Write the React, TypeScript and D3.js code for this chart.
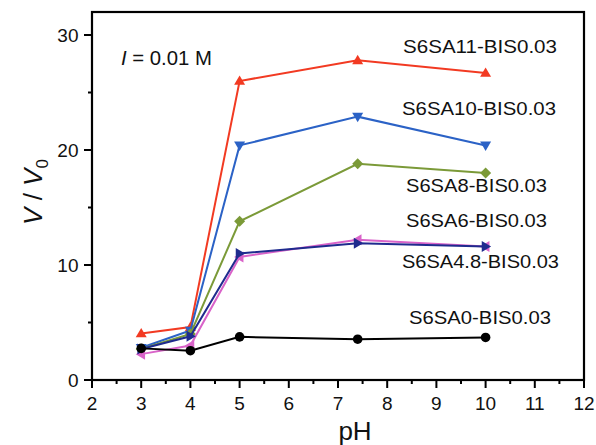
import React from "react";
import * as d3 from "d3";

const pH = [3, 4, 5, 7.4, 10];
const s11 = [4.05, 4.6, 26.0, 27.8, 26.7];
const s10 = [2.8, 4.3, 20.4, 22.9, 20.4];
const s8 = [2.7, 4.0, 13.8, 18.8, 18.0];
const s6 = [2.25, 3.0, 10.7, 12.2, 11.6];
const s48 = [2.7, 3.8, 11.0, 11.9, 11.6];
const s0 = [2.75, 2.55, 3.75, 3.55, 3.7];

const xTicks = [2, 3, 4, 5, 6, 7, 8, 9, 10, 11, 12];
const yTicks = [0, 10, 20, 30];

const series = [
  { name: "S6SA11-BIS0.03", values: s11, color: "#f23a22", marker: "up", lx: 403, ly: 53, lw: 154 },
  { name: "S6SA10-BIS0.03", values: s10, color: "#2b62c6", marker: "down", lx: 402, ly: 115, lw: 154 },
  { name: "S6SA8-BIS0.03", values: s8, color: "#7b9a38", marker: "diamond", lx: 406, ly: 192, lw: 141 },
  { name: "S6SA6-BIS0.03", values: s6, color: "#d963c9", marker: "left", lx: 406, ly: 227, lw: 141 },
  { name: "S6SA4.8-BIS0.03", values: s48, color: "#1f2b8e", marker: "right", lx: 402, ly: 268, lw: 157 },
  { name: "S6SA0-BIS0.03", values: s0, color: "#000000", marker: "circle", lx: 409, ly: 324, lw: 142 },
];

const L = 92, R = 584, T = 12, B = 380;

function Marker({ type, x, y, color }: { type: string; x: number; y: number; color: string }) {
  const s = 5.5;
  if (type === "circle") return <circle cx={x} cy={y} r={4.8} fill={color} />;
  let pts = "";
  if (type === "up") pts = `${x},${y - s} ${x + s},${y + s * 0.7} ${x - s},${y + s * 0.7}`;
  if (type === "down") pts = `${x},${y + s} ${x + s},${y - s * 0.7} ${x - s},${y - s * 0.7}`;
  if (type === "left") pts = `${x - s},${y} ${x + s * 0.7},${y - s} ${x + s * 0.7},${y + s}`;
  if (type === "right") pts = `${x + s},${y} ${x - s * 0.7},${y - s} ${x - s * 0.7},${y + s}`;
  if (type === "diamond") pts = `${x},${y - s} ${x + s},${y} ${x},${y + s} ${x - s},${y}`;
  return <polygon points={pts} fill={color} />;
}

export default function App() {
  const x = d3.scaleLinear().domain([2, 12]).range([L, R]);
  const y = d3.scaleLinear().domain([0, 32]).range([B, T]);
  const line = d3.line<number>().x((_, i) => x(pH[i])).y((d) => y(d));
  const font = "Arial, 'Liberation Sans', sans-serif";
  const minorX = d3.range(2.5, 12, 1);
  const minorY = [5, 15, 25];
  return (
    <svg width={596} height={445} style={{ position: "absolute", left: 0, top: 0 }} fontFamily={font}>
      <rect width={596} height={445} fill="#fff" />
      {series.map((s) => (
        <g key={s.name}>
          <path d={line(s.values) || ""} fill="none" stroke={s.color} strokeWidth={2} />
          {s.values.map((v, i) => (
            <Marker key={i} type={s.marker} x={x(pH[i])} y={y(v)} color={s.color} />
          ))}
          <text x={s.lx} y={s.ly} fontSize={18.5} textLength={s.lw} lengthAdjust="spacingAndGlyphs" fill="#111">
            {s.name}
          </text>
        </g>
      ))}
      <rect x={L} y={T} width={R - L} height={B - T} fill="none" stroke="#000" strokeWidth={2.2} />
      {xTicks.map((t) => (
        <g key={t}>
          <line x1={x(t)} x2={x(t)} y1={B} y2={B + 8} stroke="#000" strokeWidth={2} />
          <text x={x(t)} y={409.5} fontSize={19} textAnchor="middle" fill="#111">{t}</text>
        </g>
      ))}
      {minorX.map((t) => (
        <line key={t} x1={x(t)} x2={x(t)} y1={B} y2={B + 4} stroke="#000" strokeWidth={2} />
      ))}
      {yTicks.map((t) => (
        <g key={t}>
          <line x1={L - 8} x2={L} y1={y(t)} y2={y(t)} stroke="#000" strokeWidth={2} />
          <text x={78.5} y={y(t) + 6.8} fontSize={19} textAnchor="end" fill="#111">{t}</text>
        </g>
      ))}
      {minorY.map((t) => (
        <line key={t} x1={L - 4} x2={L} y1={y(t)} y2={y(t)} stroke="#000" strokeWidth={2} />
      ))}
      <text x={121} y={65} fontSize={19.5} fill="#111" textLength={91} lengthAdjust="spacingAndGlyphs">
        <tspan fontStyle="italic">I</tspan> = 0.01 M
      </text>
      <text x={355} y={440} fontSize={26} textAnchor="middle" fill="#111">pH</text>
      <text transform="translate(42,192) rotate(-90)" fontSize={26} textAnchor="middle" fill="#111">
        <tspan fontStyle="italic">V</tspan> / <tspan fontStyle="italic">V</tspan>
        <tspan fontSize={17} dy={6}>0</tspan>
      </text>
    </svg>
  );
}
